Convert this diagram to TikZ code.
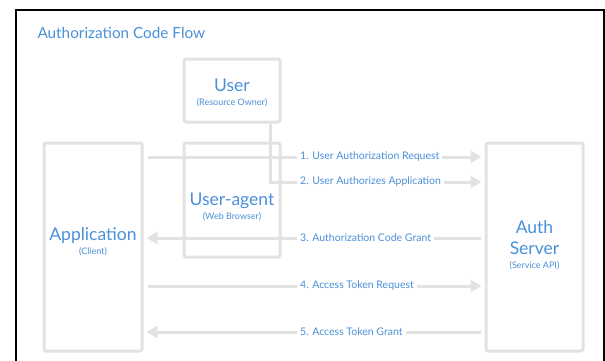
\documentclass[tikz,border=0pt]{standalone}
\usepackage{fontspec}
\setmainfont{Lato}
\usetikzlibrary{arrows.meta}
\definecolor{flowblue}{RGB}{74,144,217}
\definecolor{flowgray}{RGB}{226,226,226}
\newcommand{\bigname}{\fontsize{17.5}{21}\selectfont}
\newcommand{\subname}{\fontsize{9}{10}\selectfont}
\tikzset{
  party/.style={draw=flowgray, line width=3pt, rounded corners=2pt, inner sep=0pt},
  partyname/.style={align=center, text=flowblue, inner sep=0pt, font=\bigname},
  flow/.style={draw=flowgray, line width=3pt, shorten <=4pt, shorten >=3pt,
    -{Triangle[width=12pt,length=11pt]}},
  steplabel/.style={fill=white, text=flowblue, anchor=west, inner xsep=3pt,
    inner ysep=1pt, font=\fontsize{10.5}{12}\selectfont},
}

\begin{document}
\begin{tikzpicture}[x=1pt,y=-1pt]
\useasboundingbox (0,0) rectangle (605,360);
% frame, open at the bottom
\draw[line width=2pt] (16,370) -- (16,10) -- (603.5,10) -- (603.5,370);
\node[text=flowblue, anchor=west, font=\fontsize{15.3}{18}\selectfont] (title) at (34,33) {Authorization Code Flow};

% the four parties
\node[party, minimum width=98pt, minimum height=208pt] (app) at (93,247) {};
\node[party, minimum width=97pt, minimum height=208pt] (auth) at (534.5,247) {};
\node[party, minimum width=96pt, minimum height=63pt] (user) at (232,90.5) {};
\node[party, minimum width=96pt, minimum height=114pt] (agent) at (232,200) {};

\node[partyname] (appname) at ([yshift=5pt]app.center)
  {Application\\[-7pt]{\subname (Client)}};
\node[partyname] (authname) at ([yshift=1.5pt]auth.center)
  {Auth\\Server\\[-7pt]{\subname (Service API)}};
\node[partyname] (username) at ([yshift=-2.5pt]user.center)
  {User\\[-7pt]{\subname (Resource Owner)}};
\node[partyname] (agentname) at ([yshift=-6.5pt]agent.center)
  {User-agent\\[-7pt]{\subname (Web Browser)}};

% messages
\draw[flow] (app.east |- 0,157) -- (auth.west |- 0,157);
\draw[flow, shorten <=0pt] ([xshift=38pt]user.south) |- (auth.west |- 0,182);
\draw[flow] (auth.west |- 0,238) -- (app.east |- 0,238);
\draw[flow] (app.east |- 0,286) -- (auth.west |- 0,286);
\draw[flow] (auth.west |- 0,332) -- (app.east |- 0,332);

\node[steplabel] (m1) at (297,157) {1. User Authorization Request};
\node[steplabel] (m2) at (297,182) {2. User Authorizes Application};
\node[steplabel] (m3) at (297,238) {3. Authorization Code Grant};
\node[steplabel] (m4) at (297,286) {4. Access Token Request};
\node[steplabel] (m5) at (297,332) {5. Access Token Grant};
\end{tikzpicture}
\end{document}
